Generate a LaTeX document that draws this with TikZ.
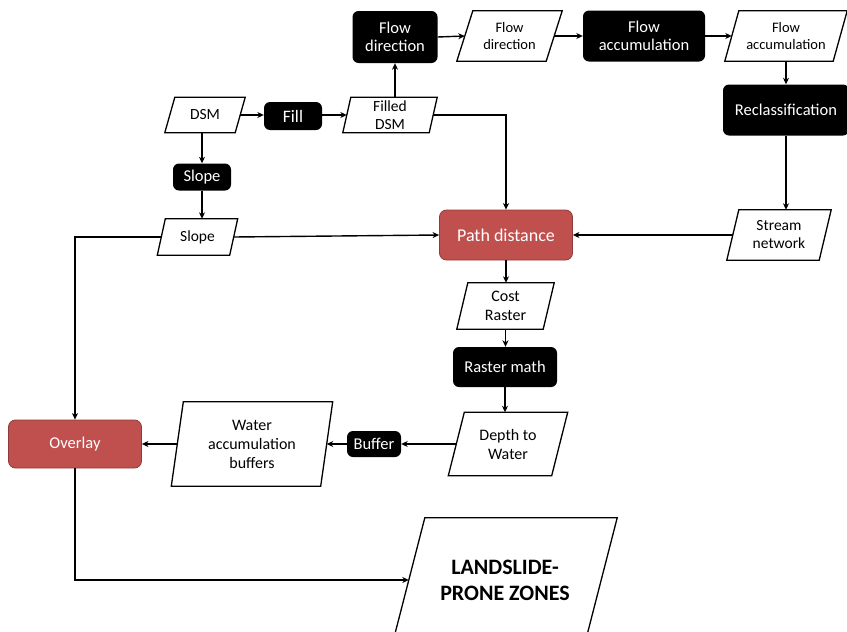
\documentclass[tikz,border=0pt]{standalone}
\usepackage{fontspec}
\setmainfont{Carlito}
\usetikzlibrary{arrows.meta,calc}
\definecolor{boxred}{HTML}{C0504D}
\definecolor{boxredline}{HTML}{8E3B39}
\newcommand\fs[2]{\fontsize{#1}{#2}\selectfont}
\newcommand\drawpara[2]{\draw[paraline] ([xshift=#2]#1.north west) -- ([xshift=#2]#1.north east) -- ([xshift=-#2]#1.south east) -- ([xshift=-#2]#1.south west) -- cycle;}
\tikzset{
  blackbox/.style={rectangle, rounded corners=6pt, fill=black, text=white, align=center, inner sep=0pt, font=\fs{16.5}{18.5}},
  redbox/.style={rectangle, rounded corners=7pt, fill=boxred, draw=boxredline, line width=0.8pt, text=white, align=center, inner sep=0pt, font=\fs{16.5}{18.5}},
  parabox/.style={rectangle, text=black, align=center, inner sep=0pt, font=\fs{15.5}{18}},
  paraline/.style={draw=black, line width=1.3pt, line join=miter},
  conn/.style={draw, line width=1.4pt, -{Stealth[length=6.5pt,width=6pt,inset=2pt]}},
}
\begin{document}
\begin{tikzpicture}[x=1pt,y=-1pt]
\useasboundingbox (0,0) rectangle (847,632);
\clip (0,0) rectangle (847,632);
% black process boxes
\node[blackbox, minimum width=58pt, minimum height=28pt, font=\fs{17.5}{19}] (fill) at (293,116) {Fill};
\node[blackbox, minimum width=85pt, minimum height=52pt] (fd1) at (395,37) {Flow\\direction};
\node[blackbox, minimum width=122pt, minimum height=51pt] (fa1) at (644,36) {Flow\\accumulation};
\node[blackbox, minimum width=126pt, minimum height=51pt] (recl) at (786,110) {Reclassification};
\node[blackbox, minimum width=58pt, minimum height=27pt] (slope1) at (202,177) {Slope};
\node[blackbox, minimum width=104pt, minimum height=40pt] (rm) at (505,367) {Raster math};
\node[blackbox, minimum width=54pt, minimum height=26pt] (buf) at (374,444) {Buffer};
% red boxes
\node[redbox, minimum width=133pt, minimum height=50pt, font=\fs{18}{20}] (pd) at (506,235) {Path distance};
\node[redbox, minimum width=133pt, minimum height=48pt] (ov) at (75,444) {Overlay};
% data parallelograms
\node[parabox, minimum width=70pt, minimum height=35pt] (dsm) at (205,115) {DSM};
\node[parabox, minimum width=86pt, minimum height=35pt] (filled) at (390,115) {Filled\\DSM};
\node[parabox, minimum width=89pt, minimum height=50pt, font=\fs{14.5}{17.5}] (fd2) at (509.5,36) {Flow\\direction};
\node[parabox, minimum width=108pt, minimum height=50pt, font=\fs{14.5}{17.5}] (fa2) at (786,36) {Flow\\accumulation};
\node[parabox, minimum width=72pt, minimum height=36pt] (slope2) at (197.5,237) {Slope};
\node[parabox, minimum width=92pt, minimum height=50pt] (stream) at (779,235) {Stream\\network};
\node[parabox, minimum width=86pt, minimum height=46pt, font=\fs{16}{19}] (cost) at (505.5,306) {Cost\\Raster};
\node[parabox, minimum width=103pt, minimum height=63pt, font=\fs{16}{19}] (dtw) at (508,444) {Depth to\\Water};
\node[parabox, minimum width=149pt, minimum height=84pt, font=\fs{16}{19}] (wab) at (252,444) {Water\\accumulation\\buffers};
\node[parabox, minimum width=192pt, minimum height=124pt, font=\fs{22}{26}\bfseries] (land) at (505,580) {LANDSLIDE-\\PRONE ZONES};
\drawpara{dsm}{5pt}
\drawpara{filled}{4pt}
\drawpara{fd2}{8pt}
\drawpara{fa2}{7pt}
\drawpara{slope2}{4pt}
\drawpara{stream}{6pt}
\drawpara{cost}{5.5pt}
\drawpara{dtw}{8pt}
\drawpara{wab}{6pt}
\drawpara{land}{16pt}
% connectors
\draw[conn] (dsm.east) -- (fill.west |- dsm.east);
\draw[conn] (fill.east |- filled.west) -- (filled.west);
\draw[conn] (filled.north -| fd1.south) -- (fd1.south);
\draw[conn] (fd1.east) -- (fd2.west);
\draw[conn] (fd2.east) -- (fa1.west);
\draw[conn] (fa1.east) -- (fa2.west);
\draw[conn] (fa2.south) -- (recl.north);
\draw[conn] (recl.south) -- (recl.south |- stream.north);
\draw[conn] (stream.west) -- (pd.east);
\draw[conn] (slope2.east) -- (pd.west);
\draw[conn] (filled.east) -- (filled.east -| pd.north) -- (pd.north);
\draw[conn] (dsm.south -| slope1.north) -- (slope1.north);
\draw[conn] (slope1.south) -- (slope1.south |- slope2.north);
\draw[conn] (slope2.west) -- (slope2.west -| ov.north) -- (ov.north);
\draw[conn] (pd.south) -- (pd.south |- cost.north);
\draw[conn] (cost.south) -- (cost.south |- rm.north);
\draw[conn] (rm.south) -- (rm.south |- dtw.north);
\draw[conn] (dtw.west) -- (buf.east);
\draw[conn] (buf.west) -- (wab.east);
\draw[conn] (wab.west) -- (ov.east);
\draw[conn] (ov.south) -- (ov.south |- land.west) -- (land.west);
\end{tikzpicture}
\end{document}
